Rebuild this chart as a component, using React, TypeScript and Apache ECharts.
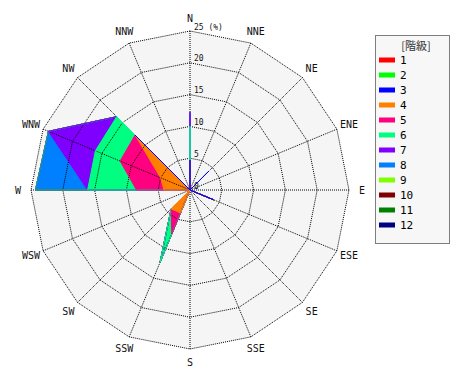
import React, { useEffect, useRef } from 'react';
import * as echarts from 'echarts';

// Directions, clockwise from north
const DIRECTIONS = ['N', 'NNE', 'NE', 'ENE', 'E', 'ESE', 'SE', 'SSE', 'S', 'SSW', 'SW', 'WSW', 'W', 'WNW', 'NW', 'NNW'];

// Classes (階級) and their colours
const CLASSES = ['1', '2', '3', '4', '5', '6', '7', '8', '9', '10', '11', '12'];
const CLASS_COLORS = ['#ff0000', '#00ff00', '#0000ff', '#ff8000', '#ff0080', '#00ff80', '#8000ff', '#0080ff', '#80ff00', '#800000', '#008000', '#000080'];

// Frequency (%) per class, in DIRECTIONS order
//                  N    NNE  NE   ENE  E    ESE  SE   SSE  S    SSW  SW   WSW  W    WNW  NW    NNW
const CLASS_1 = [0, 0, 0, 0, 0, 0, 0, 0, 0, 0, 0, 0, 0, 0, 0, 0];
const CLASS_2 = [0, 0, 0, 0, 0, 0, 0, 0, 0, 0, 0, 0, 0, 0, 0, 0];
const CLASS_3 = [4.7, 0, 4.2, 0, 0, 4.0, 0, 0, 0, 0, 0, 0, 0, 0, 12.2, 0];
const CLASS_4 = [0, 0, 0, 0, 0, 0, 0, 0, 0, 3.9, 4.2, 0, 4.1, 5.0, 0, 0];
const CLASS_5 = [0, 0, 0, 0, 0, 0, 0, 0, 0, 3.6, 0, 0, 4.3, 6.9, 0, 0];
const CLASS_6 = [5.3, 0, 0, 0, 0, 0, 0, 0, 0, 4.8, 0, 0, 7.7, 4.2, 4.1, 0];
const CLASS_7 = [2.2, 0, 0, 0, 0, 0, 0, 0, 0, 0, 0, 0, 0, 8.0, 0, 0];
const CLASS_8 = [0, 0, 0, 0, 0, 0, 0, 0, 0, 0, 0, 0, 8.2, 0, 0, 0];
const CLASS_9 = [0, 0, 0, 0, 0, 0, 0, 0, 0, 0, 0, 0, 0, 0, 0, 0];
const CLASS_10 = [0, 0, 0, 0, 0, 0, 0, 0, 0, 0, 0, 0, 0, 0, 0, 0];
const CLASS_11 = [0, 0, 0, 0, 0, 0, 0, 0, 0, 0, 0, 0, 0, 0, 0, 0];
const CLASS_12 = [0, 0, 0, 0, 0, 0, 0, 0, 0, 0, 0, 0, 0, 0, 0, 0];

const CLASS_VALUES = [CLASS_1, CLASS_2, CLASS_3, CLASS_4, CLASS_5, CLASS_6, CLASS_7, CLASS_8, CLASS_9, CLASS_10, CLASS_11, CLASS_12];

// Radial axis (%)
const RADIAL_TICKS = [0, 5, 10, 15, 20, 25];
const RADIAL_MAX = 25;
const RADIAL_UNIT = '(%)';
const LEGEND_TITLE = '[階級]';

export default function App() {
  const ref = useRef<HTMLDivElement>(null);

  useEffect(() => {
    if (!ref.current) return;
    const chart = echarts.init(ref.current, undefined, { renderer: 'svg' });

    // radar places indicators counter-clockwise; reorder so the rose runs clockwise
    const order = [0, ...Array.from({ length: DIRECTIONS.length - 1 }, (_, i) => DIRECTIONS.length - 1 - i)];

    // stacked (cumulative) values per class
    const cum: number[][] = [];
    CLASS_VALUES.forEach((vals, k) => {
      cum.push(vals.map((v, d) => +(v + (k > 0 ? cum[k - 1][d] : 0)).toFixed(3)));
    });

    const makeIndicator = (withLabel: boolean) =>
      order.map((i) => {
        const ind: any = { name: DIRECTIONS[i], min: 0, max: RADIAL_MAX };
        if (withLabel && i === 0) ind.axisLabel = { show: true };
        return ind;
      });

    const areaData = [];
    const lineData = [];
    for (let k = CLASSES.length - 1; k >= 0; k--) {
      const c = CLASS_COLORS[k];
      const value = order.map((i) => cum[k][i]);
      areaData.push({
        name: CLASSES[k],
        value,
        itemStyle: { color: c },
        lineStyle: { color: c, width: 0, opacity: 0 },
        areaStyle: { color: c, opacity: 1 },
        symbol: 'none',
      });
      lineData.push({
        name: CLASSES[k],
        value,
        itemStyle: { color: c },
        lineStyle: { color: c, width: 1, type: 'solid' },
        symbol: 'none',
      });
    }

    const mono = 'DejaVu Sans Mono';
    const CENTER = [190, 190];
    const RADIUS = 159;
    const geometry = {
      center: CENTER,
      radius: RADIUS,
      startAngle: 90,
      shape: 'polygon',
      splitNumber: RADIAL_TICKS.length - 1,
    };
    const dotted = { color: '#000', type: [1, 1], width: 1 };

    chart.setOption({
      animation: false,
      backgroundColor: '#ffffff',
      polar: { center: CENTER, radius: [0, RADIUS], z: 5 },
      angleAxis: {
        type: 'category',
        data: DIRECTIONS,
        boundaryGap: false,
        startAngle: 90,
        clockwise: true,
        z: 5,
        axisLine: { show: false },
        axisTick: { show: false },
        axisLabel: { show: false },
        splitLine: { show: true, lineStyle: dotted },
        splitArea: { show: false },
      },
      radiusAxis: {
        min: 0,
        max: RADIAL_MAX,
        show: false,
        axisLine: { show: false },
        axisTick: { show: false },
        axisLabel: { show: false },
        splitLine: { show: false },
      },
      radar: [
        {
          ...geometry,
          z: 0,
          axisName: { show: false },
          axisLine: { show: false },
          splitLine: { show: false },
          splitArea: { show: true, areaStyle: { color: ['#f5f5f5'] } },
          axisTick: { show: false },
          axisLabel: { show: false },
          indicator: makeIndicator(false),
        },
        {
          ...geometry,
          z: 5,
          axisNameGap: 13,
          axisName: {
            color: '#111',
            fontSize: 10,
            fontFamily: mono,
            align: 'center',
            verticalAlign: 'middle',
          },
          axisLine: { show: false },
          splitLine: { show: true, lineStyle: dotted },
          splitArea: { show: false },
          axisTick: { show: false },
          axisLabel: {
            show: false,
            fontSize: 8,
            fontFamily: mono,
            color: '#111',
            align: 'left',
            verticalAlign: 'bottom',
            margin: -4,
            formatter: (v: number) => (v === RADIAL_MAX ? `${v} ${RADIAL_UNIT}` : String(v)),
          },
          indicator: makeIndicator(true),
        },
      ],
      legend: {
        data: CLASSES,
        orient: 'vertical',
        left: 379,
        top: 54,
        padding: 0,
        itemGap: 3,
        itemWidth: 16,
        itemHeight: 5,
        icon: 'rect',
        selectedMode: false,
        textStyle: { fontSize: 11, lineHeight: 12, fontFamily: mono, color: '#000' },
      },
      graphic: [
        {
          type: 'rect',
          z: -10,
          shape: { x: 375.5, y: 35.5, width: 74, height: 208 },
          style: { fill: '#f7f7f7', stroke: '#000', lineWidth: 1, lineDash: [1, 1] },
        },
        {
          type: 'text',
          x: 416,
          y: 45,
          style: {
            text: LEGEND_TITLE,
            fill: '#333',
            fontSize: 11,
            fontFamily: 'Noto Sans CJK JP',
            align: 'center',
            verticalAlign: 'middle',
          },
        },
      ],
      series: [
        {
          type: 'radar',
          radarIndex: 0,
          z: 2,
          symbol: 'none',
          silent: true,
          data: areaData,
        },
        {
          type: 'radar',
          radarIndex: 0,
          z: 6,
          symbol: 'none',
          silent: true,
          data: lineData,
        },
      ],
    });

    return () => chart.dispose();
  }, []);

  return <div ref={ref} style={{ position: 'fixed', left: 0, top: 0, width: 470, height: 380 }} />;
}
